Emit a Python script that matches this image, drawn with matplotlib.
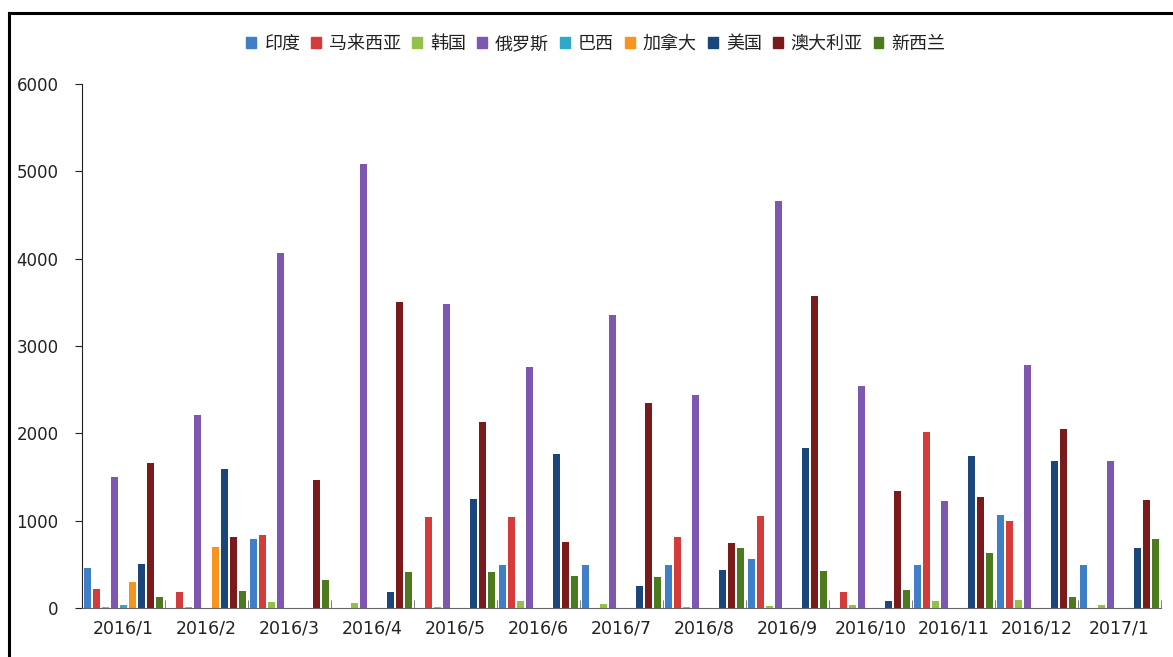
import matplotlib
matplotlib.use("Agg")
import matplotlib.pyplot as plt
import numpy as np
from matplotlib.lines import Line2D

plt.rcParams['font.family'] = ['Noto Sans CJK SC', 'DejaVu Sans']

categories = ["2016/1", "2016/2", "2016/3", "2016/4", "2016/5", "2016/6", "2016/7",
              "2016/8", "2016/9", "2016/10", "2016/11", "2016/12", "2017/1"]
series_names = ["印度", "马来西亚", "韩国", "俄罗斯", "巴西", "加拿大", "美国", "澳大利亚", "新西兰"]

india     = [460, 0, 790, 0, 0, 490, 490, 490, 560, 0, 490, 1070, 490]
malaysia  = [220, 180, 840, 0, 1040, 1040, 0, 810, 1050, 180, 2020, 1000, 0]
korea     = [10, 15, 65, 60, 10, 80, 45, 10, 25, 40, 80, 90, 40]
russia    = [1500, 2210, 4070, 5080, 3480, 2760, 3360, 2440, 4660, 2540, 1220, 2780, 1680]
brazil    = [30, 0, 0, 0, 0, 0, 0, 0, 0, 0, 0, 0, 0]
canada    = [300, 700, 0, 0, 0, 0, 0, 0, 0, 0, 0, 0, 0]
usa       = [500, 1590, 0, 180, 1250, 1760, 250, 440, 1830, 80, 1740, 1680, 690]
australia = [1660, 810, 1470, 3500, 2130, 760, 2350, 750, 3570, 1340, 1270, 2050, 1240]
nz        = [130, 200, 320, 410, 410, 370, 350, 690, 420, 210, 630, 130, 790]

series = [india, malaysia, korea, russia, brazil, canada, usa, australia, nz]
colors = ['#3F7FC7', '#D63B3B', '#93C047', '#7E57B0', '#2FA9C9', '#F7941D',
          '#1B467B', '#7A1A1A', '#4E7A1F']

W, H = 1173, 657
fig = plt.figure(figsize=(W / 100, H / 100), dpi=100)
ax = fig.add_axes([82 / W, 1 - 608 / H, (1161 - 82) / W, (608 - 84) / H])

n = len(series)
x = np.arange(len(categories))
slot = 1.0 / (n + 0.2)
bw = slot * 0.78
for i, (vals, c, name) in enumerate(zip(series, colors, series_names)):
    offs = (i - (n - 1) / 2) * slot
    ax.bar(x + offs, vals, width=bw, color=c, label=name, zorder=2)

ax.set_xlim(-0.5, len(categories) - 0.5)
ax.set_ylim(0, 6000)
ax.set_yticks(np.arange(0, 6001, 1000))
ax.set_xticks(x)
ax.set_xticklabels(categories, fontsize=12.5, family=['DejaVu Sans'], color='#222222')
ax.set_xticks(np.arange(-0.5, len(categories), 1), minor=True)
ax.tick_params(axis='x', which='major', length=0, pad=8)
ax.tick_params(axis='x', which='minor', length=6, direction='in', color='#666666')
ax.tick_params(axis='y', length=5, direction='out', labelsize=12, pad=12, colors='#222222')
for lab in ax.get_yticklabels():
    lab.set_family(['DejaVu Sans'])
ax.spines['top'].set_visible(False)
ax.spines['right'].set_visible(False)
ax.spines['left'].set_color('#222222')
ax.spines['bottom'].set_color('#666666')

handles = [plt.Rectangle((0, 0), 1, 1, color=c) for c in colors]
fig.legend(handles, series_names, loc='center', bbox_to_anchor=(596 / W, 1 - 44 / H),
           ncol=n, frameon=False, fontsize=13, handlelength=0.55, handleheight=0.55,
           handletextpad=0.45, columnspacing=0.6, labelcolor='#222222')

# outer frame lines
fig.add_artist(Line2D([9 / W, 1.0], [1 - 12.5 / H, 1 - 12.5 / H], color='black', lw=2.2,
                      transform=fig.transFigure))
fig.add_artist(Line2D([9 / W, 9 / W], [0, 1 - 12.5 / H], color='black', lw=2.2,
                      transform=fig.transFigure))

fig.savefig("out.png", dpi=100)
